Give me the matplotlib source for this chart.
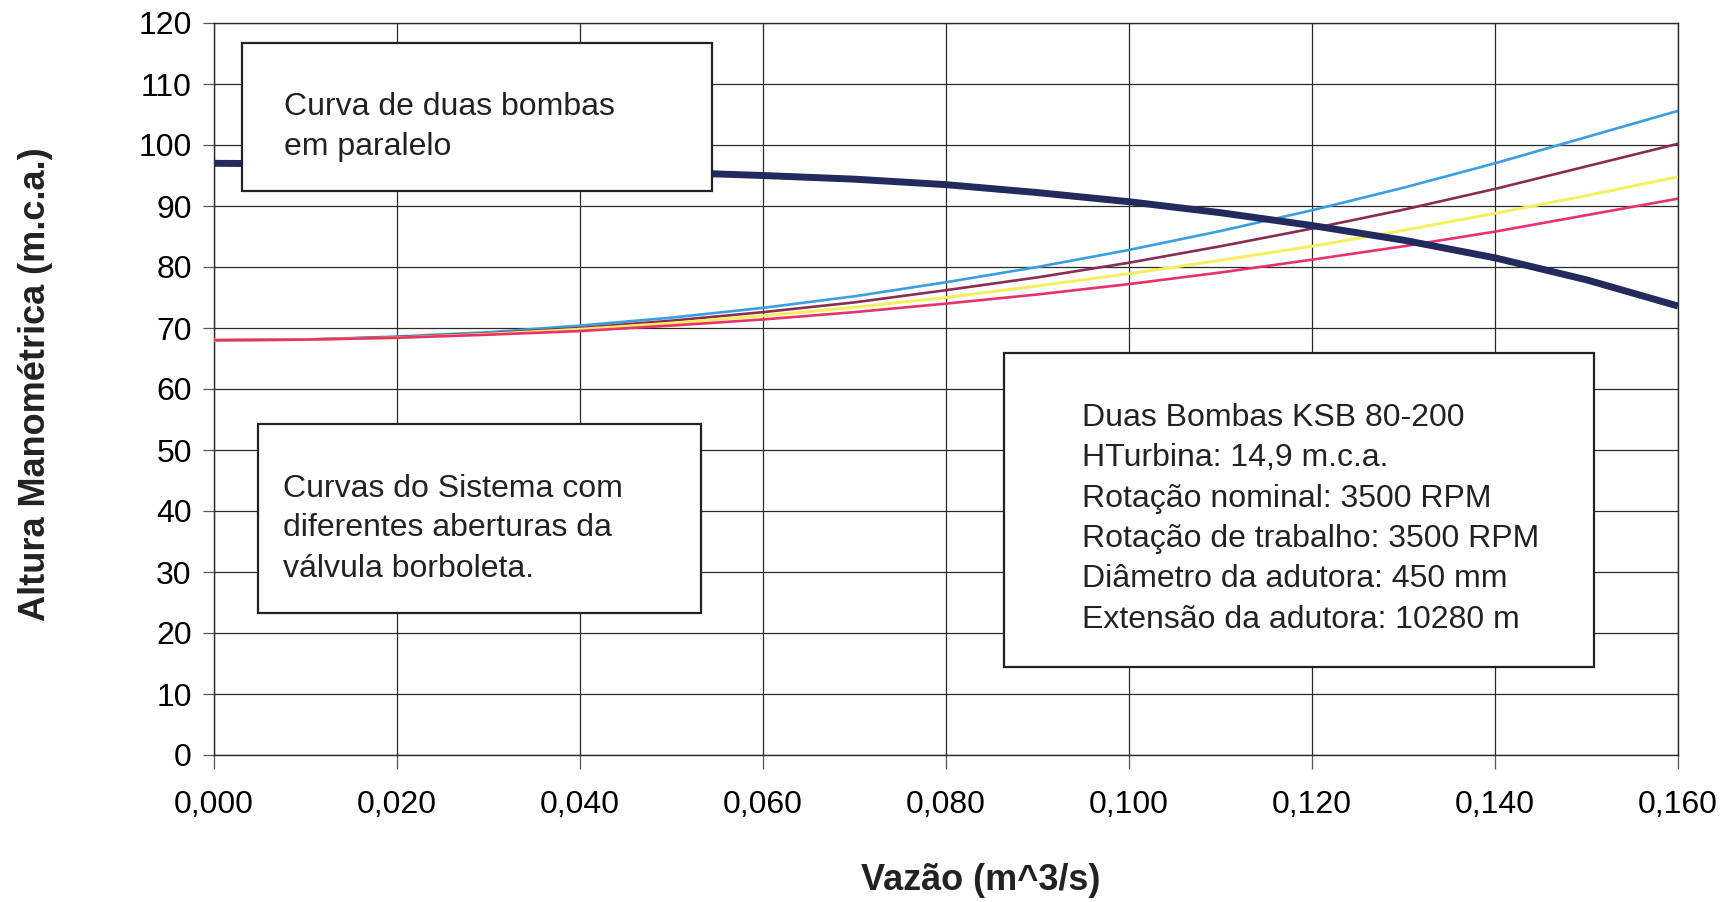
import matplotlib
matplotlib.use("Agg")

import numpy as np
import matplotlib.pyplot as plt
from matplotlib.patches import Rectangle

plt.rcParams["font.family"] = ["Liberation Sans", "DejaVu Sans"]

# vazão (m^3/s)
vazao = [0.00, 0.01, 0.02, 0.03, 0.04, 0.05, 0.06, 0.07, 0.08,
         0.09, 0.10, 0.11, 0.12, 0.13, 0.14, 0.15, 0.16]

# curva das duas bombas em paralelo
bombas = [97.0, 96.9, 96.7, 96.4, 96.0, 95.5, 95.0, 94.4, 93.5,
          92.2, 90.7, 88.9, 86.8, 84.4, 81.5, 77.9, 73.6]

# curvas do sistema (aberturas da válvula)
sist_azul = [68.0, 68.1, 68.6, 69.3, 70.4, 71.7, 73.3, 75.2, 77.5,
             80.0, 82.8, 85.9, 89.3, 93.0, 97.0, 101.3, 105.6]
sist_vinho = [68.0, 68.1, 68.5, 69.1, 70.0, 71.2, 72.6, 74.2, 76.2,
              78.3, 80.7, 83.4, 86.3, 89.4, 92.8, 96.5, 100.2]
sist_amarelo = [68.0, 68.1, 68.4, 69.0, 69.8, 70.8, 72.0, 73.4, 75.0,
                76.9, 78.9, 81.1, 83.4, 86.0, 88.8, 91.7, 94.8]
sist_rosa = [68.0, 68.1, 68.4, 68.9, 69.5, 70.4, 71.4, 72.6, 74.0,
             75.5, 77.2, 79.1, 81.2, 83.4, 85.8, 88.5, 91.2]

xticks = np.arange(0, 0.161, 0.02)
yticks = np.arange(0, 121, 10)

W, H = 1731, 902
fig = plt.figure(figsize=(W / 100, H / 100), dpi=100)
ax = fig.add_axes([214 / W, 1 - 755 / H, (1678 - 214) / W, (755 - 23) / H])

ax.plot(vazao, sist_azul, color="#3a9fe0", lw=1.9, zorder=3)
ax.plot(vazao, sist_vinho, color="#8a2d52", lw=1.9, zorder=3)
ax.plot(vazao, sist_amarelo, color="#f4ef5a", lw=2.1, zorder=3)
ax.plot(vazao, sist_rosa, color="#e8326c", lw=1.9, zorder=3)
ax.plot(vazao, bombas, color="#232a5e", lw=5.0, zorder=4, solid_capstyle="butt")

ax.set_xlim(0, 0.16)
ax.set_ylim(0, 120)
ax.set_xticks(xticks)
ax.set_xticklabels([f"{v:.3f}".replace(".", ",") for v in xticks])
ax.set_yticks(yticks)
ax.grid(True, color="#2a2a2a", lw=0.9)
ax.set_axisbelow(True)
ax.tick_params(axis="x", labelsize=23, length=10, width=0.9, pad=15, color="#555555")
ax.tick_params(axis="y", labelsize=23, length=8, width=0.9, pad=8, color="#555555")
for s in ax.spines.values():
    s.set_linewidth(1.0)
    s.set_color("#2a2a2a")

fig.text(981 / W, 1 - 880 / H, "Vazão (m^3/s)", fontsize=26,
         fontweight="bold", ha="center", va="center", color="#222222")
fig.text(36 / W, 1 - 384 / H, "Altura Manométrica (m.c.a.)", fontsize=26,
         fontweight="bold", ha="center", va="center", rotation=90, color="#222222")


def caixa(x0, y0, x1, y1, tx, linhas, ys):
    fig.add_artist(Rectangle((x0 / W, 1 - y1 / H), (x1 - x0) / W, (y1 - y0) / H,
                             transform=fig.transFigure, facecolor="white",
                             edgecolor="#222222", lw=1.6, zorder=10))
    for txt, yy in zip(linhas, ys):
        fig.text(tx / W, 1 - (yy + 11) / H, txt, fontsize=23, ha="left",
                 va="baseline", color="#222222", zorder=11)


caixa(242, 43, 712, 191, 284,
      ["Curva de duas bombas", "em paralelo"], [104, 144])
caixa(258, 424, 701, 613, 283,
      ["Curvas do Sistema com", "diferentes aberturas da", "válvula borboleta."],
      [486, 525, 566])
caixa(1004, 353, 1594, 667, 1082,
      ["Duas Bombas KSB 80-200", "HTurbina: 14,9 m.c.a.",
       "Rotação nominal: 3500 RPM", "Rotação de trabalho: 3500 RPM",
       "Diâmetro da adutora: 450 mm", "Extensão da adutora: 10280 m"],
      [415, 455, 496, 536, 576, 617])

fig.savefig("out.png", dpi=100)
